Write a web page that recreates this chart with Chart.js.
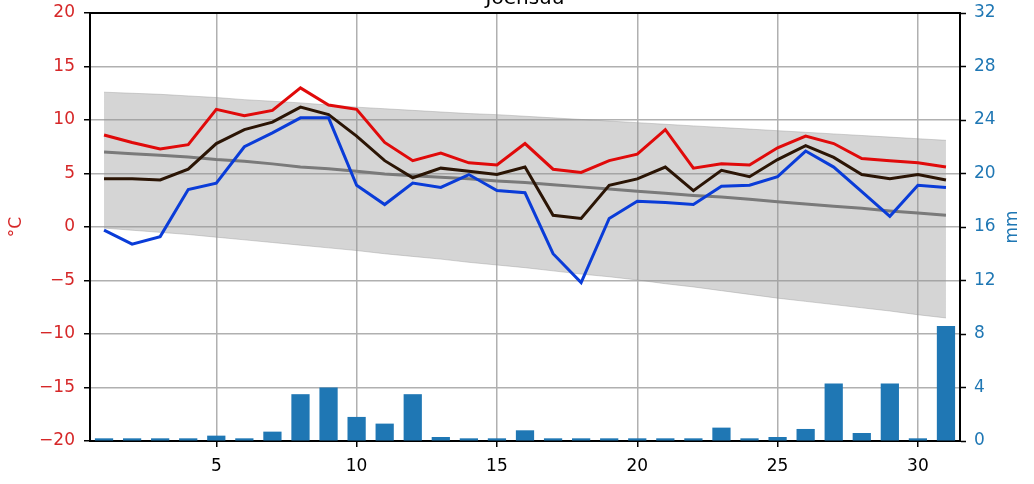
<!DOCTYPE html>
<html>
<head>
<meta charset="utf-8">
<script src="https://cdn.jsdelivr.net/npm/chart.js@4.4.1/dist/chart.umd.min.js"></script>
<style>
  html, body { margin: 0; padding: 0; background: #fff; }
  canvas { display: block; }
</style>
</head>
<body>
<canvas id="chart" width="1034" height="484"></canvas>
<script>
// =====================
// DATA
// =====================
const TITLE = "Joensuu";

const days = [1, 2, 3, 4, 5, 6, 7, 8, 9, 10, 11, 12, 13, 14, 15, 16,
  17, 18, 19, 20, 21, 22, 23, 24, 25, 26, 27, 28, 29, 30, 31];

// daily temperatures (°C)
const tMax = [8.6, 7.9, 7.3, 7.7, 11.0, 10.4, 10.9, 13.0, 11.4, 11.0, 7.9, 6.2, 6.9, 6.0, 5.8, 7.8,
  5.4, 5.1, 6.2, 6.8, 9.1, 5.5, 5.9, 5.8, 7.4, 8.5, 7.8, 6.4, 6.2, 6.0, 5.6];
const tMean = [4.5, 4.5, 4.4, 5.4, 7.8, 9.1, 9.8, 11.2, 10.5, 8.5, 6.2, 4.6, 5.5, 5.2, 4.9, 5.6,
  1.1, 0.8, 3.9, 4.5, 5.6, 3.4, 5.3, 4.7, 6.3, 7.6, 6.5, 4.9, 4.5, 4.9, 4.4];
const tMin = [-0.3, -1.6, -0.9, 3.5, 4.1, 7.5, 8.8, 10.2, 10.2, 3.9, 2.1, 4.1, 3.7, 4.9, 3.4, 3.2,
  -2.5, -5.2, 0.8, 2.4, 2.3, 2.1, 3.8, 3.9, 4.7, 7.1, 5.6, 3.3, 1.0, 3.9, 3.7];

// long-term normal: mean and range
const normMean = [7.0, 6.85, 6.7, 6.55, 6.3, 6.15, 5.9, 5.6, 5.45, 5.2, 4.95, 4.8, 4.65, 4.5, 4.3, 4.15,
  3.95, 3.75, 3.55, 3.35, 3.15, 2.95, 2.8, 2.6, 2.35, 2.15, 1.95, 1.75, 1.5, 1.3, 1.1];
const normHigh = [12.6, 12.5, 12.4, 12.25, 12.1, 11.9, 11.75, 11.6, 11.4, 11.2, 11.05, 10.9, 10.75, 10.6, 10.5, 10.35,
  10.2, 10.05, 9.9, 9.75, 9.6, 9.45, 9.3, 9.15, 9.0, 8.85, 8.7, 8.55, 8.4, 8.25, 8.1];
const normLow = [-0.1, -0.3, -0.5, -0.7, -0.95, -1.2, -1.45, -1.7, -1.95, -2.2, -2.5, -2.75, -3.0, -3.3, -3.55, -3.8,
  -4.1, -4.4, -4.65, -4.95, -5.3, -5.6, -5.95, -6.3, -6.65, -6.95, -7.25, -7.55, -7.85, -8.2, -8.5];

// precipitation (mm)
const precip = [0.2, 0.2, 0.2, 0.2, 0.4, 0.2, 0.7, 3.5, 4.0, 1.8, 1.3, 3.5, 0.3, 0.2, 0.2, 0.8,
  0.2, 0.2, 0.2, 0.2, 0.2, 0.2, 1.0, 0.2, 0.3, 0.9, 4.3, 0.6, 4.3, 0.2, 8.6];

// tick labels
const dayTicks = [5, 10, 15, 20, 25, 30];
const tempTicks = [-20, -15, -10, -5, 0, 5, 10, 15, 20];
const rainTicks = [0, 4, 8, 12, 16, 20, 24, 28, 32];

// =====================
// HELPERS
// =====================
const RED = "#d62728";
const BLUE = "#1f77b4";
const FONT = "DejaVu Sans";

function pts(values) {
  return values.map((v, i) => ({ x: days[i], y: v }));
}

function lineSet(values, color, order) {
  return {
    type: "line",
    data: pts(values),
    borderColor: color,
    borderWidth: 3,
    pointRadius: 0,
    fill: false,
    tension: 0,
    yAxisID: "y",
    order: order
  };
}

// fixed axis box, no extra room for overhanging labels
function fixWidth(w) {
  return s => {
    s.width = w;
    s.paddingTop = 0;
    s.paddingBottom = 0;
  };
}

// title, top spine and axis labels
const extras = {
  id: "extras",
  afterDraw(chart) {
    const ctx = chart.ctx;
    const a = chart.chartArea;
    const midY = (a.top + a.bottom) / 2;
    ctx.save();

    ctx.strokeStyle = "#000";
    ctx.lineWidth = 2;
    ctx.beginPath();
    ctx.moveTo(a.left - 1, a.top);
    ctx.lineTo(a.right + 1, a.top);
    ctx.stroke();

    ctx.fillStyle = "#000";
    ctx.font = `20px '${FONT}'`;
    ctx.textAlign = "center";
    ctx.textBaseline = "alphabetic";
    ctx.fillText(TITLE, (a.left + a.right) / 2, 4);

    ctx.font = `17px '${FONT}'`;
    ctx.textBaseline = "middle";

    ctx.save();
    ctx.translate(17, midY);
    ctx.rotate(-Math.PI / 2);
    ctx.fillStyle = RED;
    ctx.fillText("°C", 0, 0);
    ctx.restore();

    ctx.save();
    ctx.translate(1013, midY);
    ctx.rotate(-Math.PI / 2);
    ctx.fillStyle = BLUE;
    ctx.fillText("mm", 0, 0);
    ctx.restore();

    ctx.restore();
  }
};

// =====================
// CHART
// =====================
new Chart(document.getElementById("chart"), {
  type: "bar",
  data: {
    datasets: [
      lineSet(tMin, "#0a3cd8", 1),
      lineSet(tMean, "#2b1505", 2),
      lineSet(tMax, "#e00a0a", 3),
      lineSet(normMean, "#7a7a7a", 4),
      {
        type: "line",
        data: pts(normHigh),
        borderColor: "rgba(150,150,150,0.4)",
        borderWidth: 1,
        backgroundColor: "rgba(150,150,150,0.4)",
        pointRadius: 0,
        fill: "+1",
        yAxisID: "y",
        order: 5
      },
      {
        type: "line",
        data: pts(normLow),
        borderColor: "rgba(150,150,150,0.4)",
        borderWidth: 1,
        pointRadius: 0,
        fill: false,
        yAxisID: "y",
        order: 6
      },
      {
        type: "bar",
        data: pts(precip),
        backgroundColor: BLUE,
        barPercentage: 0.65,
        categoryPercentage: 1,
        yAxisID: "y2",
        order: 7
      }
    ]
  },
  options: {
    responsive: false,
    devicePixelRatio: 1,
    animation: false,
    layout: { padding: { top: 13, left: 0, right: 0, bottom: 0 } },
    plugins: {
      legend: { display: false },
      tooltip: { enabled: false }
    },
    scales: {
      x: {
        type: "linear",
        min: 0.5,
        max: 31.5,
        offset: false,
        afterFit: s => { s.height = 43; },
        afterBuildTicks: s => { s.ticks = dayTicks.map(v => ({ value: v })); },
        grid: { offset: false, color: "#b0b0b0", lineWidth: 1.5, tickColor: "#000", tickLength: 6, tickWidth: 1.5 },
        border: { color: "#000", width: 2 },
        ticks: { color: "#000", font: { family: FONT, size: 17 }, padding: 9, maxRotation: 0 }
      },
      y: {
        position: "left",
        min: -20,
        max: 20,
        afterFit: fixWidth(90),
        afterBuildTicks: s => { s.ticks = tempTicks.map(v => ({ value: v })); },
        grid: { color: "#b0b0b0", lineWidth: 1.5, tickColor: "#000", tickLength: 6, tickWidth: 1.5 },
        border: { color: "#000", width: 2 },
        ticks: {
          color: RED, font: { family: FONT, size: 17 }, padding: 9,
          callback: v => String(v).replace("-", "\u2212")
        }
      },
      y2: {
        position: "right",
        min: 0,
        max: 32,
        afterFit: fixWidth(74),
        afterBuildTicks: s => { s.ticks = rainTicks.map(v => ({ value: v })); },
        grid: { drawOnChartArea: false, tickColor: "#000", tickLength: 6, tickWidth: 1.5 },
        border: { color: "#000", width: 2 },
        ticks: { color: BLUE, font: { family: FONT, size: 17 }, padding: 8 }
      }
    }
  },
  plugins: [extras]
});
</script>
</body>
</html>
